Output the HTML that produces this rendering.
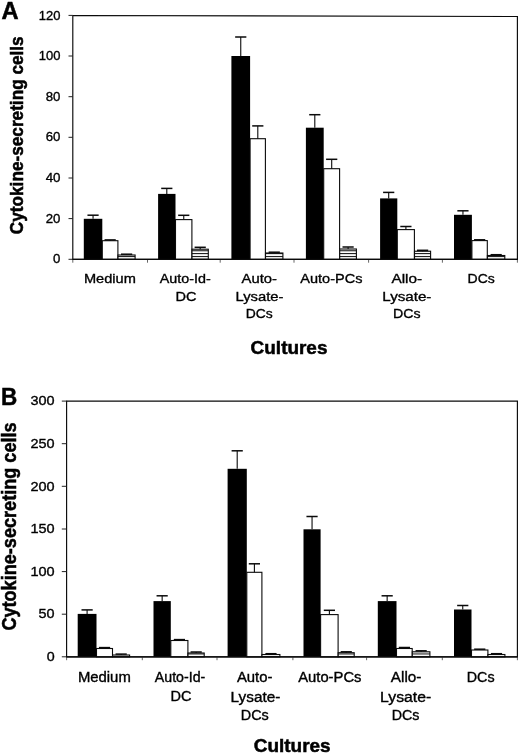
<!DOCTYPE html>
<html><head><meta charset="utf-8"><title>Figure</title>
<style>html,body{margin:0;padding:0;background:#fff}svg{display:block;filter:blur(0.3px)}text{font-family:"Liberation Sans",sans-serif}</style></head>
<body>
<svg width="520" height="754" viewBox="0 0 520 754" font-family="Liberation Sans, sans-serif" fill="#000">
<rect width="520" height="754" fill="#fff"/>
<defs>
<pattern id="ha" patternUnits="userSpaceOnUse" x="0" y="258.8" width="10" height="2.85"><rect x="0" y="0" width="10" height="1.05" fill="#111"/></pattern>
<pattern id="hb" patternUnits="userSpaceOnUse" x="0" y="656.3" width="10" height="2.85"><rect x="0" y="0" width="10" height="1.05" fill="#111"/></pattern>
</defs>
<path d="M72.8 259.3L72.8 15.5L517.4 16.5L517.4 259.3Z" fill="#fff" stroke="#0a0a0a" stroke-width="1.15" stroke-linejoin="miter"/>
<line x1="68.5" y1="15.4" x2="72.8" y2="15.4" stroke="#222" stroke-width="1"/>
<line x1="68.5" y1="56" x2="72.8" y2="56" stroke="#222" stroke-width="1"/>
<line x1="68.5" y1="96.7" x2="72.8" y2="96.7" stroke="#222" stroke-width="1"/>
<line x1="68.5" y1="137.3" x2="72.8" y2="137.3" stroke="#222" stroke-width="1"/>
<line x1="68.5" y1="178" x2="72.8" y2="178" stroke="#222" stroke-width="1"/>
<line x1="68.5" y1="218.6" x2="72.8" y2="218.6" stroke="#222" stroke-width="1"/>
<line x1="68.5" y1="259.3" x2="72.8" y2="259.3" stroke="#222" stroke-width="1"/>
<line x1="72.8" y1="259.3" x2="72.8" y2="262.7" stroke="#555" stroke-width="0.9"/>
<line x1="147.5" y1="259.3" x2="147.5" y2="262.7" stroke="#555" stroke-width="0.9"/>
<line x1="220.2" y1="259.3" x2="220.2" y2="262.7" stroke="#555" stroke-width="0.9"/>
<line x1="294" y1="259.3" x2="294" y2="262.7" stroke="#555" stroke-width="0.9"/>
<line x1="368.6" y1="259.3" x2="368.6" y2="262.7" stroke="#555" stroke-width="0.9"/>
<line x1="442.4" y1="259.3" x2="442.4" y2="262.7" stroke="#555" stroke-width="0.9"/>
<line x1="517.4" y1="259.3" x2="517.4" y2="262.7" stroke="#555" stroke-width="0.9"/>
<rect x="83.8" y="218.8" width="18.5" height="40.5" fill="#000"/>
<line x1="93.05" y1="218.8" x2="93.05" y2="215.2" stroke="#0a0a0a" stroke-width="1.1"/>
<line x1="87.45" y1="215.2" x2="98.65" y2="215.2" stroke="#0a0a0a" stroke-width="1.5"/>
<rect x="102.3" y="240.7" width="15.6" height="18.6" fill="#fff" stroke="#0a0a0a" stroke-width="1.1"/>
<line x1="110.15" y1="240.7" x2="110.15" y2="239.9" stroke="#0a0a0a" stroke-width="1.1"/>
<line x1="104.55" y1="239.9" x2="115.75" y2="239.9" stroke="#0a0a0a" stroke-width="1.5"/>
<rect x="118" y="255" width="17.1" height="4.3" fill="#fff"/>
<rect x="118" y="255" width="17.1" height="4.3" fill="url(#ha)" stroke="#0a0a0a" stroke-width="1.1"/>
<line x1="126.6" y1="255" x2="126.6" y2="254.2" stroke="#0a0a0a" stroke-width="1.1"/>
<line x1="121" y1="254.2" x2="132.2" y2="254.2" stroke="#0a0a0a" stroke-width="1.5"/>
<rect x="158.1" y="193.9" width="17.4" height="65.4" fill="#000"/>
<line x1="166.8" y1="193.9" x2="166.8" y2="188.4" stroke="#0a0a0a" stroke-width="1.1"/>
<line x1="161.2" y1="188.4" x2="172.4" y2="188.4" stroke="#0a0a0a" stroke-width="1.5"/>
<rect x="175.5" y="219.6" width="16.4" height="39.7" fill="#fff" stroke="#0a0a0a" stroke-width="1.1"/>
<line x1="183.75" y1="219.6" x2="183.75" y2="215.3" stroke="#0a0a0a" stroke-width="1.1"/>
<line x1="178.15" y1="215.3" x2="189.35" y2="215.3" stroke="#0a0a0a" stroke-width="1.5"/>
<rect x="192" y="249.2" width="16.3" height="10.1" fill="#fff"/>
<rect x="192" y="249.2" width="16.3" height="10.1" fill="url(#ha)" stroke="#0a0a0a" stroke-width="1.1"/>
<line x1="200.2" y1="249.2" x2="200.2" y2="247.3" stroke="#0a0a0a" stroke-width="1.1"/>
<line x1="194.6" y1="247.3" x2="205.8" y2="247.3" stroke="#0a0a0a" stroke-width="1.5"/>
<rect x="231.4" y="56" width="18.7" height="203.3" fill="#000"/>
<line x1="240.75" y1="56" x2="240.75" y2="37" stroke="#0a0a0a" stroke-width="1.1"/>
<line x1="235.15" y1="37" x2="246.35" y2="37" stroke="#0a0a0a" stroke-width="1.5"/>
<rect x="250.1" y="138.7" width="15.3" height="120.6" fill="#fff" stroke="#0a0a0a" stroke-width="1.1"/>
<line x1="257.8" y1="138.7" x2="257.8" y2="125.9" stroke="#0a0a0a" stroke-width="1.1"/>
<line x1="252.2" y1="125.9" x2="263.4" y2="125.9" stroke="#0a0a0a" stroke-width="1.5"/>
<rect x="265.5" y="253" width="17.4" height="6.3" fill="#fff"/>
<rect x="265.5" y="253" width="17.4" height="6.3" fill="url(#ha)" stroke="#0a0a0a" stroke-width="1.1"/>
<line x1="274.25" y1="253" x2="274.25" y2="252.2" stroke="#0a0a0a" stroke-width="1.1"/>
<line x1="268.65" y1="252.2" x2="279.85" y2="252.2" stroke="#0a0a0a" stroke-width="1.5"/>
<rect x="305.9" y="127.7" width="17.8" height="131.6" fill="#000"/>
<line x1="314.8" y1="127.7" x2="314.8" y2="114.7" stroke="#0a0a0a" stroke-width="1.1"/>
<line x1="309.2" y1="114.7" x2="320.4" y2="114.7" stroke="#0a0a0a" stroke-width="1.5"/>
<rect x="323.7" y="168.7" width="15.9" height="90.6" fill="#fff" stroke="#0a0a0a" stroke-width="1.1"/>
<line x1="331.7" y1="168.7" x2="331.7" y2="159.3" stroke="#0a0a0a" stroke-width="1.1"/>
<line x1="326.1" y1="159.3" x2="337.3" y2="159.3" stroke="#0a0a0a" stroke-width="1.5"/>
<rect x="339.7" y="249" width="16.7" height="10.3" fill="#fff"/>
<rect x="339.7" y="249" width="16.7" height="10.3" fill="url(#ha)" stroke="#0a0a0a" stroke-width="1.1"/>
<line x1="348.1" y1="249" x2="348.1" y2="247" stroke="#0a0a0a" stroke-width="1.1"/>
<line x1="342.5" y1="247" x2="353.7" y2="247" stroke="#0a0a0a" stroke-width="1.5"/>
<rect x="380.1" y="198.4" width="17.2" height="60.9" fill="#000"/>
<line x1="388.7" y1="198.4" x2="388.7" y2="192.4" stroke="#0a0a0a" stroke-width="1.1"/>
<line x1="383.1" y1="192.4" x2="394.3" y2="192.4" stroke="#0a0a0a" stroke-width="1.5"/>
<rect x="397.3" y="229.6" width="17.1" height="29.7" fill="#fff" stroke="#0a0a0a" stroke-width="1.1"/>
<line x1="405.9" y1="229.6" x2="405.9" y2="226.5" stroke="#0a0a0a" stroke-width="1.1"/>
<line x1="400.3" y1="226.5" x2="411.5" y2="226.5" stroke="#0a0a0a" stroke-width="1.5"/>
<rect x="414.5" y="251.2" width="16.1" height="8.1" fill="#fff"/>
<rect x="414.5" y="251.2" width="16.1" height="8.1" fill="url(#ha)" stroke="#0a0a0a" stroke-width="1.1"/>
<line x1="422.6" y1="251.2" x2="422.6" y2="250.3" stroke="#0a0a0a" stroke-width="1.1"/>
<line x1="417" y1="250.3" x2="428.2" y2="250.3" stroke="#0a0a0a" stroke-width="1.5"/>
<rect x="454" y="214.8" width="17.9" height="44.5" fill="#000"/>
<line x1="462.95" y1="214.8" x2="462.95" y2="210.8" stroke="#0a0a0a" stroke-width="1.1"/>
<line x1="457.35" y1="210.8" x2="468.55" y2="210.8" stroke="#0a0a0a" stroke-width="1.5"/>
<rect x="471.9" y="240.6" width="15.4" height="18.7" fill="#fff" stroke="#0a0a0a" stroke-width="1.1"/>
<line x1="479.65" y1="240.6" x2="479.65" y2="239.8" stroke="#0a0a0a" stroke-width="1.1"/>
<line x1="474.05" y1="239.8" x2="485.25" y2="239.8" stroke="#0a0a0a" stroke-width="1.5"/>
<rect x="487.4" y="255.5" width="17.4" height="3.8" fill="#fff"/>
<rect x="487.4" y="255.5" width="17.4" height="3.8" fill="url(#ha)" stroke="#0a0a0a" stroke-width="1.1"/>
<line x1="496.15" y1="255.5" x2="496.15" y2="254.7" stroke="#0a0a0a" stroke-width="1.1"/>
<line x1="490.55" y1="254.7" x2="501.75" y2="254.7" stroke="#0a0a0a" stroke-width="1.5"/>
<line x1="72.3" y1="259.3" x2="517.9" y2="259.3" stroke="#0a0a0a" stroke-width="1.2"/>
<path d="M66.6 656.8L66.6 401.1L517.4 401.1L517.4 656.8Z" fill="#fff" stroke="#0a0a0a" stroke-width="1.15" stroke-linejoin="miter"/>
<line x1="61.8" y1="401.1" x2="66.6" y2="401.1" stroke="#222" stroke-width="1"/>
<line x1="61.8" y1="443.7" x2="66.6" y2="443.7" stroke="#222" stroke-width="1"/>
<line x1="61.8" y1="486.3" x2="66.6" y2="486.3" stroke="#222" stroke-width="1"/>
<line x1="61.8" y1="529" x2="66.6" y2="529" stroke="#222" stroke-width="1"/>
<line x1="61.8" y1="571.6" x2="66.6" y2="571.6" stroke="#222" stroke-width="1"/>
<line x1="61.8" y1="614.2" x2="66.6" y2="614.2" stroke="#222" stroke-width="1"/>
<line x1="61.8" y1="656.8" x2="66.6" y2="656.8" stroke="#222" stroke-width="1"/>
<line x1="66.6" y1="656.8" x2="66.6" y2="660.2" stroke="#555" stroke-width="0.9"/>
<line x1="142.3" y1="656.8" x2="142.3" y2="660.2" stroke="#555" stroke-width="0.9"/>
<line x1="217" y1="656.8" x2="217" y2="660.2" stroke="#555" stroke-width="0.9"/>
<line x1="292.9" y1="656.8" x2="292.9" y2="660.2" stroke="#555" stroke-width="0.9"/>
<line x1="366.6" y1="656.8" x2="366.6" y2="660.2" stroke="#555" stroke-width="0.9"/>
<line x1="442.3" y1="656.8" x2="442.3" y2="660.2" stroke="#555" stroke-width="0.9"/>
<line x1="517.4" y1="656.8" x2="517.4" y2="660.2" stroke="#555" stroke-width="0.9"/>
<rect x="77.7" y="613.9" width="18.8" height="42.9" fill="#000"/>
<line x1="87.1" y1="613.9" x2="87.1" y2="609.9" stroke="#0a0a0a" stroke-width="1.1"/>
<line x1="81.5" y1="609.9" x2="92.7" y2="609.9" stroke="#0a0a0a" stroke-width="1.5"/>
<rect x="96.5" y="648.5" width="16" height="8.3" fill="#fff" stroke="#0a0a0a" stroke-width="1.1"/>
<line x1="104.55" y1="648.5" x2="104.55" y2="647.6" stroke="#0a0a0a" stroke-width="1.1"/>
<line x1="98.95" y1="647.6" x2="110.15" y2="647.6" stroke="#0a0a0a" stroke-width="1.5"/>
<rect x="112.6" y="655" width="17" height="1.8" fill="#fff"/>
<rect x="112.6" y="655" width="17" height="1.8" fill="url(#hb)" stroke="#0a0a0a" stroke-width="1.1"/>
<line x1="121.15" y1="655" x2="121.15" y2="654.1" stroke="#0a0a0a" stroke-width="1.1"/>
<line x1="115.55" y1="654.1" x2="126.75" y2="654.1" stroke="#0a0a0a" stroke-width="1.5"/>
<rect x="153.5" y="601.1" width="17.3" height="55.7" fill="#000"/>
<line x1="162.15" y1="601.1" x2="162.15" y2="595.8" stroke="#0a0a0a" stroke-width="1.1"/>
<line x1="156.55" y1="595.8" x2="167.75" y2="595.8" stroke="#0a0a0a" stroke-width="1.5"/>
<rect x="170.8" y="640.5" width="17.1" height="16.3" fill="#fff" stroke="#0a0a0a" stroke-width="1.1"/>
<line x1="179.4" y1="640.5" x2="179.4" y2="639.6" stroke="#0a0a0a" stroke-width="1.1"/>
<line x1="173.8" y1="639.6" x2="185" y2="639.6" stroke="#0a0a0a" stroke-width="1.5"/>
<rect x="188" y="653" width="16.2" height="3.8" fill="#fff"/>
<rect x="188" y="653" width="16.2" height="3.8" fill="url(#hb)" stroke="#0a0a0a" stroke-width="1.1"/>
<line x1="196.15" y1="653" x2="196.15" y2="652" stroke="#0a0a0a" stroke-width="1.1"/>
<line x1="190.55" y1="652" x2="201.75" y2="652" stroke="#0a0a0a" stroke-width="1.5"/>
<rect x="227.6" y="468.8" width="19.2" height="188" fill="#000"/>
<line x1="237.2" y1="468.8" x2="237.2" y2="450.8" stroke="#0a0a0a" stroke-width="1.1"/>
<line x1="231.6" y1="450.8" x2="242.8" y2="450.8" stroke="#0a0a0a" stroke-width="1.5"/>
<rect x="246.8" y="572.3" width="15.1" height="84.5" fill="#fff" stroke="#0a0a0a" stroke-width="1.1"/>
<line x1="254.4" y1="572.3" x2="254.4" y2="563.8" stroke="#0a0a0a" stroke-width="1.1"/>
<line x1="248.8" y1="563.8" x2="260" y2="563.8" stroke="#0a0a0a" stroke-width="1.5"/>
<rect x="262" y="654.5" width="17.9" height="2.3" fill="#fff"/>
<rect x="262" y="654.5" width="17.9" height="2.3" fill="url(#hb)" stroke="#0a0a0a" stroke-width="1.1"/>
<line x1="271" y1="654.5" x2="271" y2="653.7" stroke="#0a0a0a" stroke-width="1.1"/>
<line x1="265.4" y1="653.7" x2="276.6" y2="653.7" stroke="#0a0a0a" stroke-width="1.5"/>
<rect x="303.5" y="529.3" width="17.1" height="127.5" fill="#000"/>
<line x1="312.05" y1="529.3" x2="312.05" y2="516.5" stroke="#0a0a0a" stroke-width="1.1"/>
<line x1="306.45" y1="516.5" x2="317.65" y2="516.5" stroke="#0a0a0a" stroke-width="1.5"/>
<rect x="320.6" y="614.6" width="17.5" height="42.2" fill="#fff" stroke="#0a0a0a" stroke-width="1.1"/>
<line x1="329.4" y1="614.6" x2="329.4" y2="610.3" stroke="#0a0a0a" stroke-width="1.1"/>
<line x1="323.8" y1="610.3" x2="335" y2="610.3" stroke="#0a0a0a" stroke-width="1.5"/>
<rect x="338.2" y="652.7" width="16" height="4.1" fill="#fff"/>
<rect x="338.2" y="652.7" width="16" height="4.1" fill="url(#hb)" stroke="#0a0a0a" stroke-width="1.1"/>
<line x1="346.25" y1="652.7" x2="346.25" y2="651.8" stroke="#0a0a0a" stroke-width="1.1"/>
<line x1="340.65" y1="651.8" x2="351.85" y2="651.8" stroke="#0a0a0a" stroke-width="1.5"/>
<rect x="377.8" y="601.1" width="18.7" height="55.7" fill="#000"/>
<line x1="387.15" y1="601.1" x2="387.15" y2="595.8" stroke="#0a0a0a" stroke-width="1.1"/>
<line x1="381.55" y1="595.8" x2="392.75" y2="595.8" stroke="#0a0a0a" stroke-width="1.5"/>
<rect x="396.5" y="648.5" width="15.7" height="8.3" fill="#fff" stroke="#0a0a0a" stroke-width="1.1"/>
<line x1="404.4" y1="648.5" x2="404.4" y2="647.5" stroke="#0a0a0a" stroke-width="1.1"/>
<line x1="398.8" y1="647.5" x2="410" y2="647.5" stroke="#0a0a0a" stroke-width="1.5"/>
<rect x="412.3" y="651.8" width="17.6" height="5" fill="#fff"/>
<rect x="412.3" y="651.8" width="17.6" height="5" fill="url(#hb)" stroke="#0a0a0a" stroke-width="1.1"/>
<line x1="421.15" y1="651.8" x2="421.15" y2="650.8" stroke="#0a0a0a" stroke-width="1.1"/>
<line x1="415.55" y1="650.8" x2="426.75" y2="650.8" stroke="#0a0a0a" stroke-width="1.5"/>
<rect x="454" y="609.5" width="17.5" height="47.3" fill="#000"/>
<line x1="462.75" y1="609.5" x2="462.75" y2="605.5" stroke="#0a0a0a" stroke-width="1.1"/>
<line x1="457.15" y1="605.5" x2="468.35" y2="605.5" stroke="#0a0a0a" stroke-width="1.5"/>
<rect x="471.5" y="650" width="16.4" height="6.8" fill="#fff" stroke="#0a0a0a" stroke-width="1.1"/>
<line x1="479.75" y1="650" x2="479.75" y2="649.2" stroke="#0a0a0a" stroke-width="1.1"/>
<line x1="474.15" y1="649.2" x2="485.35" y2="649.2" stroke="#0a0a0a" stroke-width="1.5"/>
<rect x="488" y="654.5" width="16.9" height="2.3" fill="#fff"/>
<rect x="488" y="654.5" width="16.9" height="2.3" fill="url(#hb)" stroke="#0a0a0a" stroke-width="1.1"/>
<line x1="496.5" y1="654.5" x2="496.5" y2="653.7" stroke="#0a0a0a" stroke-width="1.1"/>
<line x1="490.9" y1="653.7" x2="502.1" y2="653.7" stroke="#0a0a0a" stroke-width="1.5"/>
<line x1="66.1" y1="656.8" x2="517.9" y2="656.8" stroke="#0a0a0a" stroke-width="1.2"/>
<text x="10" y="19.2" font-size="24" font-weight="bold" text-anchor="middle" stroke="#000" stroke-width="0.5" textLength="17.09" lengthAdjust="spacingAndGlyphs">A</text>
<text x="9" y="405.2" font-size="24" font-weight="bold" text-anchor="middle" stroke="#000" stroke-width="0.5" textLength="16.24" lengthAdjust="spacingAndGlyphs">B</text>
<text x="49.6" y="19.5" font-size="13.2" font-weight="normal" text-anchor="middle" stroke="#000" stroke-width="0.35" textLength="21.68" lengthAdjust="spacingAndGlyphs">120</text>
<text x="49.6" y="60.1" font-size="13.2" font-weight="normal" text-anchor="middle" stroke="#000" stroke-width="0.35" textLength="21.68" lengthAdjust="spacingAndGlyphs">100</text>
<text x="53.05" y="100.8" font-size="13.2" font-weight="normal" text-anchor="middle" stroke="#000" stroke-width="0.35" textLength="14.7" lengthAdjust="spacingAndGlyphs">80</text>
<text x="53.05" y="141.4" font-size="13.2" font-weight="normal" text-anchor="middle" stroke="#000" stroke-width="0.35" textLength="14.7" lengthAdjust="spacingAndGlyphs">60</text>
<text x="53.05" y="182.1" font-size="13.2" font-weight="normal" text-anchor="middle" stroke="#000" stroke-width="0.35" textLength="14.85" lengthAdjust="spacingAndGlyphs">40</text>
<text x="53.05" y="222.7" font-size="13.2" font-weight="normal" text-anchor="middle" stroke="#000" stroke-width="0.35" textLength="14.7" lengthAdjust="spacingAndGlyphs">20</text>
<text x="56.7" y="263.4" font-size="13.2" font-weight="normal" text-anchor="middle" stroke="#000" stroke-width="0.35" textLength="7.36" lengthAdjust="spacingAndGlyphs">0</text>
<text x="42.6" y="405.3" font-size="13.3" font-weight="normal" text-anchor="middle" stroke="#000" stroke-width="0.35" textLength="24.12" lengthAdjust="spacingAndGlyphs">300</text>
<text x="42.6" y="447.9" font-size="13.3" font-weight="normal" text-anchor="middle" stroke="#000" stroke-width="0.35" textLength="24.12" lengthAdjust="spacingAndGlyphs">250</text>
<text x="42.6" y="490.5" font-size="13.3" font-weight="normal" text-anchor="middle" stroke="#000" stroke-width="0.35" textLength="24.12" lengthAdjust="spacingAndGlyphs">200</text>
<text x="42.6" y="533.2" font-size="13.3" font-weight="normal" text-anchor="middle" stroke="#000" stroke-width="0.35" textLength="24.18" lengthAdjust="spacingAndGlyphs">150</text>
<text x="42.6" y="575.8" font-size="13.3" font-weight="normal" text-anchor="middle" stroke="#000" stroke-width="0.35" textLength="24.18" lengthAdjust="spacingAndGlyphs">100</text>
<text x="46.6" y="618.4" font-size="13.3" font-weight="normal" text-anchor="middle" stroke="#000" stroke-width="0.35" textLength="16.01" lengthAdjust="spacingAndGlyphs">50</text>
<text x="50.7" y="661" font-size="13.3" font-weight="normal" text-anchor="middle" stroke="#000" stroke-width="0.35" textLength="7.94" lengthAdjust="spacingAndGlyphs">0</text>
<text x="109.9" y="282.6" font-size="13.7" font-weight="normal" text-anchor="middle" stroke="#000" stroke-width="0.35" textLength="51.94" lengthAdjust="spacingAndGlyphs">Medium</text>
<text x="185.3" y="282.8" font-size="13.7" font-weight="normal" text-anchor="middle" stroke="#000" stroke-width="0.35" textLength="50.92" lengthAdjust="spacingAndGlyphs">Auto-Id-</text>
<text x="186.05" y="300.5" font-size="13.7" font-weight="normal" text-anchor="middle" stroke="#000" stroke-width="0.35" textLength="20.99" lengthAdjust="spacingAndGlyphs">DC</text>
<text x="259.3" y="282.8" font-size="13.7" font-weight="normal" text-anchor="middle" stroke="#000" stroke-width="0.35" textLength="35.39" lengthAdjust="spacingAndGlyphs">Auto-</text>
<text x="259.5" y="300.5" font-size="13.7" font-weight="normal" text-anchor="middle" stroke="#000" stroke-width="0.35" textLength="47.96" lengthAdjust="spacingAndGlyphs">Lysate-</text>
<text x="259.3" y="318.4" font-size="13.7" font-weight="normal" text-anchor="middle" stroke="#000" stroke-width="0.35" textLength="27.02" lengthAdjust="spacingAndGlyphs">DCs</text>
<text x="331.4" y="282.8" font-size="13.7" font-weight="normal" text-anchor="middle" stroke="#000" stroke-width="0.35" textLength="62.21" lengthAdjust="spacingAndGlyphs">Auto-PCs</text>
<text x="406.8" y="282.8" font-size="13.7" font-weight="normal" text-anchor="middle" stroke="#000" stroke-width="0.35" textLength="30.72" lengthAdjust="spacingAndGlyphs">Allo-</text>
<text x="406.85" y="300.5" font-size="13.7" font-weight="normal" text-anchor="middle" stroke="#000" stroke-width="0.35" textLength="49.16" lengthAdjust="spacingAndGlyphs">Lysate-</text>
<text x="406.85" y="318.4" font-size="13.7" font-weight="normal" text-anchor="middle" stroke="#000" stroke-width="0.35" textLength="27.56" lengthAdjust="spacingAndGlyphs">DCs</text>
<text x="481.15" y="282.7" font-size="13.7" font-weight="normal" text-anchor="middle" stroke="#000" stroke-width="0.35" textLength="27.24" lengthAdjust="spacingAndGlyphs">DCs</text>
<text x="289.05" y="354" font-size="18" font-weight="bold" text-anchor="middle" stroke="#000" stroke-width="0.5" textLength="76.82" lengthAdjust="spacingAndGlyphs">Cultures</text>
<text x="104.35" y="682.3" font-size="13.8" font-weight="normal" text-anchor="middle" stroke="#000" stroke-width="0.35" textLength="52.85" lengthAdjust="spacingAndGlyphs">Medium</text>
<text x="180.05" y="682.4" font-size="13.8" font-weight="normal" text-anchor="middle" stroke="#000" stroke-width="0.35" textLength="50.41" lengthAdjust="spacingAndGlyphs">Auto-Id-</text>
<text x="181.05" y="701.2" font-size="13.8" font-weight="normal" text-anchor="middle" stroke="#000" stroke-width="0.35" textLength="20.99" lengthAdjust="spacingAndGlyphs">DC</text>
<text x="254.7" y="682.4" font-size="13.8" font-weight="normal" text-anchor="middle" stroke="#000" stroke-width="0.35" textLength="35.59" lengthAdjust="spacingAndGlyphs">Auto-</text>
<text x="255.45" y="701.5" font-size="13.8" font-weight="normal" text-anchor="middle" stroke="#000" stroke-width="0.35" textLength="49.71" lengthAdjust="spacingAndGlyphs">Lysate-</text>
<text x="254.75" y="719.8" font-size="13.8" font-weight="normal" text-anchor="middle" stroke="#000" stroke-width="0.35" textLength="28.01" lengthAdjust="spacingAndGlyphs">DCs</text>
<text x="329.85" y="682.4" font-size="13.8" font-weight="normal" text-anchor="middle" stroke="#000" stroke-width="0.35" textLength="63.31" lengthAdjust="spacingAndGlyphs">Auto-PCs</text>
<text x="406.15" y="682.4" font-size="13.8" font-weight="normal" text-anchor="middle" stroke="#000" stroke-width="0.35" textLength="30.6" lengthAdjust="spacingAndGlyphs">Allo-</text>
<text x="405.7" y="701.5" font-size="13.8" font-weight="normal" text-anchor="middle" stroke="#000" stroke-width="0.35" textLength="51.21" lengthAdjust="spacingAndGlyphs">Lysate-</text>
<text x="405.5" y="719.8" font-size="13.8" font-weight="normal" text-anchor="middle" stroke="#000" stroke-width="0.35" textLength="27.75" lengthAdjust="spacingAndGlyphs">DCs</text>
<text x="480.7" y="682.4" font-size="13.8" font-weight="normal" text-anchor="middle" stroke="#000" stroke-width="0.35" textLength="27.79" lengthAdjust="spacingAndGlyphs">DCs</text>
<text x="292.2" y="751.7" font-size="18.5" font-weight="bold" text-anchor="middle" stroke="#000" stroke-width="0.5" textLength="76.82" lengthAdjust="spacingAndGlyphs">Cultures</text>
<text transform="translate(23.3,135.25) rotate(-90)" font-size="19" font-weight="bold" text-anchor="middle" stroke="#000" stroke-width="0.55" textLength="197.86" lengthAdjust="spacingAndGlyphs">Cytokine-secreting cells</text>
<text transform="translate(15.8,526.5) rotate(-90)" font-size="19.6" font-weight="bold" text-anchor="middle" stroke="#000" stroke-width="0.55" textLength="208.24" lengthAdjust="spacingAndGlyphs">Cytokine-secreting cells</text>
</svg>
</body></html>
